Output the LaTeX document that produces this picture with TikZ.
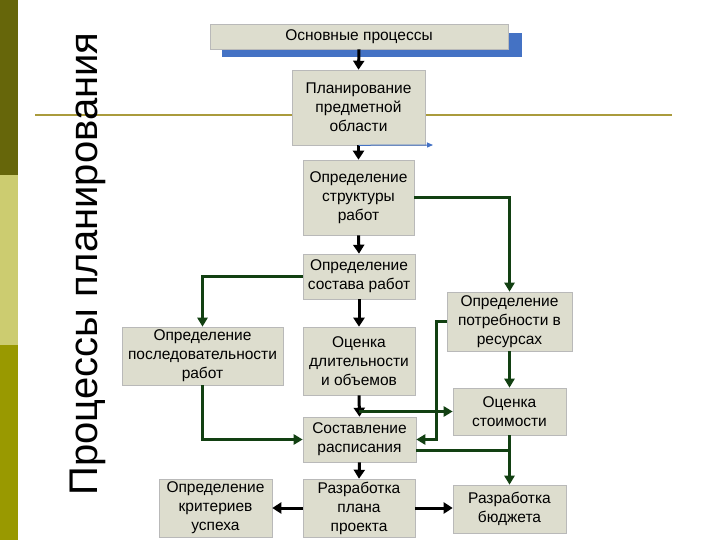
\documentclass[tikz,border=0pt]{standalone}
\usepackage{fontspec}
\setmainfont{Liberation Sans}
\definecolor{olivedark}{RGB}{102,102,10}
\definecolor{olivelight}{RGB}{204,204,112}
\definecolor{olivemid}{RGB}{153,153,0}
\definecolor{oliveline}{RGB}{170,155,60}
\definecolor{boxgray}{RGB}{221,221,206}
\definecolor{shadeblue}{RGB}{68,114,196}
\definecolor{pathgreen}{RGB}{18,64,18}
\usetikzlibrary{arrows.meta}

\begin{document}
\begin{tikzpicture}[x=1pt,y=-1pt,
	pbox/.style={fill=boxgray, draw=gray!55, line width=0.6pt, align=center,
		inner sep=1pt, font=\fontsize{15.5}{19}\selectfont},
	barr/.style={-{Triangle[length=9pt,width=11pt]}, line width=3pt, black},
	garr/.style={-{Triangle[length=9pt,width=10pt]}, line width=2.5pt, pathgreen},
	gline/.style={line width=2.5pt, pathgreen}
]
	\useasboundingbox (0,0) rectangle (720,540);
	% side stripe and rule
	\fill[olivedark] (0,0) rectangle (18,175);
	\fill[olivelight] (0,175) rectangle (18,345);
	\fill[olivemid] (0,345) rectangle (18,540);
	\draw[oliveline, line width=2pt] (35,115) -- (672,115);
	\node[rotate=90, anchor=base, font=\fontsize{40}{40}\selectfont] (title) at (97,264) {Процессы планирования};

	% boxes
	\node[fill=shadeblue, minimum width=300pt, minimum height=24pt] (mainshade) at (372,45) {};
	\node[pbox, minimum width=298pt, minimum height=25pt] (main) at (359,36.5) {Основные процессы};
	\node[pbox, minimum width=133pt, minimum height=75pt] (plan) at (358.5,107.5) {Планирование\\предметной\\области};
	\node[pbox, minimum width=111pt, minimum height=75pt] (struct) at (358.5,197.5) {Определение\\структуры\\работ};
	\node[pbox, minimum width=112pt, minimum height=45pt] (sostav) at (359,276.5) {Определение\\состава работ};
	\node[pbox, minimum width=112pt, minimum height=68pt] (dlit) at (359,361) {Оценка\\длительности\\и объемов};
	\node[pbox, minimum width=161pt, minimum height=58pt] (posl) at (202.5,356) {Определение\\последовательности\\работ};
	\node[pbox, minimum width=125pt, minimum height=59pt] (potr) at (509.5,321.5) {Определение\\потребности в\\ресурсах};
	\node[pbox, minimum width=113pt, minimum height=47pt] (stoim) at (509.5,411.5) {Оценка\\стоимости};
	\node[pbox, minimum width=113pt, minimum height=45pt] (rasp) at (359.5,439.5) {Составление\\расписания};
	\node[pbox, minimum width=112pt, minimum height=58pt] (razplan) at (359,508) {Разработка\\плана\\проекта};
	\node[pbox, minimum width=113pt, minimum height=58pt] (krit) at (215.5,508) {Определение\\критериев\\успеха};
	\node[pbox, minimum width=113pt, minimum height=48pt] (budget) at (509.5,509) {Разработка\\бюджета};

	% main chain
	\draw[barr] (main.south) -- (plan.north);
	\draw[barr] (plan.south) -- (struct.north);
	\draw[barr] (struct.south) -- (sostav.north);
	\draw[barr] (sostav.south) -- (dlit.north);
	\draw[barr] (dlit.south) -- (rasp.north);
	\draw[barr] (rasp.south) -- (razplan.north);
	\draw[barr] (razplan.west) -- (krit.east);
	\draw[barr] (razplan.east) -- (razplan.east -| budget.west);
	\coordinate (blueend) at (433,145);
	\draw[-{Triangle[length=6pt,width=5pt]}, line width=1pt, shadeblue] (plan.south) -- (blueend);

	% side paths
	\draw[garr] (struct.east) -| (potr.north);
	\draw[garr] (sostav.west) -| (posl.north);
	\draw[garr] (potr.south) -- (stoim.north);
	\draw[garr] (posl.south) |- (rasp.west);
	\coordinate (dlitbranch) at (dlit.south |- stoim.west);
	\draw[garr] (dlitbranch) -- (stoim.west);
	\draw[garr] (potr.west) -- ++(-10,0) |- (rasp.east);
	\coordinate (rasplow) at ([yshift=-11pt]rasp.east);
	\draw[gline] (rasplow) -- (rasplow -| stoim.south);
	\draw[garr] (stoim.south) -- (budget.north);
\end{tikzpicture}
\end{document}
